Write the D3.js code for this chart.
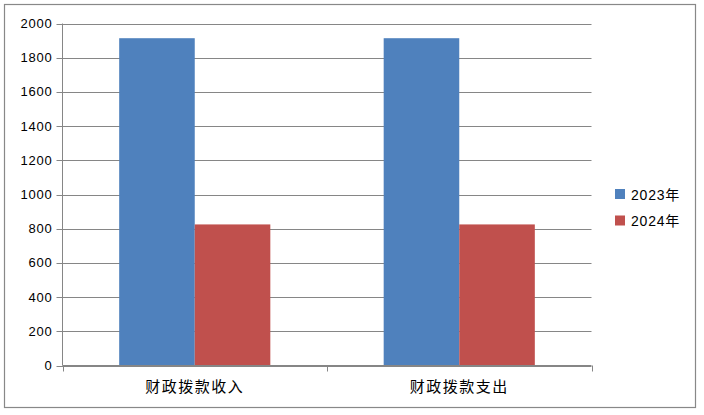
<!DOCTYPE html>
<html><head><meta charset="utf-8">
<script src="https://cdn.jsdelivr.net/npm/d3@7"></script>
<style>body{margin:0;background:#fff}</style>
</head><body>
<script>
const categories = ["财政拨款收入", "财政拨款支出"];
const seriesNames = ["2023年", "2024年"];
const values2023 = [1914, 1914];
const values2024 = [825, 825];
const yTicks = [0, 200, 400, 600, 800, 1000, 1200, 1400, 1600, 1800, 2000];
const colors = ["#4F81BD", "#C0504D"];

(function () {
const W = 704, H = 415;
const svg = d3.select("body").append("svg").attr("width", W).attr("height", H);
svg.append("rect").attr("x", 4.5).attr("y", 4.5).attr("width", 691).attr("height", 403)
  .attr("fill", "#fff").attr("stroke", "#888").attr("stroke-width", 1.2);

const pLeft = 62.5, pRight = 591.5, pTop = 23.5, pBottom = 365.5;
const y = d3.scaleLinear().domain([0, 2000]).range([pBottom, pTop]);
const x0 = d3.scaleBand().domain(categories).range([pLeft, pRight]).paddingInner(0).paddingOuter(0);
const x1 = d3.scaleBand().domain(seriesNames).range([0, x0.bandwidth()]).paddingOuter(0.75).paddingInner(0);

const g = svg.append("g");
g.selectAll("line.grid").data(yTicks).enter().append("line")
  .attr("x1", pLeft - 6).attr("x2", pRight).attr("y1", d => Math.round(y(d)) + 0.5).attr("y2", d => Math.round(y(d)) + 0.5)
  .attr("stroke", "#868686").attr("stroke-width", 1);
g.append("line").attr("x1", pLeft).attr("x2", pLeft).attr("y1", pTop).attr("y2", pBottom).attr("stroke", "#868686");
g.selectAll("text.yl").data(yTicks).enter().append("text")
  .attr("x", pLeft - 10).attr("y", d => y(d) + 4.5).attr("text-anchor", "end")
  .attr("font-family", "Liberation Sans, Arial, sans-serif").attr("font-size", 13).attr("letter-spacing", 0.8)
  .attr("fill", "#000").text(d => d);

const series = [values2023, values2024];
categories.forEach((c, ci) => {
  seriesNames.forEach((s, si) => {
    const v = series[si][ci];
    g.append("rect").attr("x", x0(c) + x1(s)).attr("width", x1.bandwidth())
      .attr("y", y(v)).attr("height", pBottom - y(v)).attr("fill", colors[si]);
  });
});

const catEdges = [x0(categories[0]), x0(categories[1]), x0(categories[1]) + x0.bandwidth()];
g.selectAll("line.ct").data(catEdges).enter().append("line")
  .attr("x1", d => Math.round(d) + 0.5).attr("x2", d => Math.round(d) + 0.5)
  .attr("y1", pBottom).attr("y2", pBottom + 6).attr("stroke", "#868686");
g.append("line").attr("x1", pLeft).attr("x2", pRight).attr("y1", pBottom).attr("y2", pBottom).attr("stroke", "#868686");

g.selectAll("text.cl").data(categories).enter().append("text")
  .attr("x", d => x0(d) + x0.bandwidth() / 2).attr("y", 392).attr("text-anchor", "middle")
  .attr("font-family", "Noto Sans CJK SC, sans-serif").attr("font-size", 15).attr("letter-spacing", 1.5)
  .attr("fill", "#000").text(d => d);

const lg = svg.append("g");
seriesNames.forEach((s, i) => {
  lg.append("rect").attr("x", 615).attr("y", 189 + i * 26.5).attr("width", 10).attr("height", 10).attr("fill", colors[i]);
  lg.append("text").attr("x", 631).attr("y", 199.5 + i * 26.5)
    .attr("font-family", "Liberation Sans, Arial, Noto Sans CJK SC, sans-serif").attr("font-size", 14).attr("letter-spacing", 0.8)
    .attr("fill", "#000").text(s);
});
})();
</script>
</body></html>
